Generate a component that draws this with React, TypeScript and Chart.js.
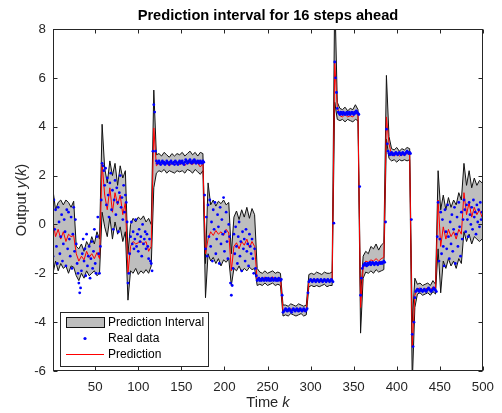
import { useEffect, useRef } from "react";
import { Chart, registerables } from "chart.js";

Chart.register(...registerables);

// Interval and prediction are stored every third step of the run, starting at k = 1;
// the measured output is stored at every step.
const FIRST_SAMPLE = 1;
const SAMPLE_STEP = 3;
const REAL_STEP = 1;

// Upper bound of the 16-step-ahead prediction interval
const UPPER = [
  1.4, 0.6, 0.9, 1.0, 0.8, 1.0, 0.9, 0.7, 0.95,
  -0.9, -1.0, -0.8, -1.1, -0.7, -0.9, -0.5, -0.8, -0.3, -0.6,
  4.1, 2.3, 1.7, 2.6, 2.0, 2.5, 1.6, 2.4, 1.9, 2.2,
  -1.2, 0.0, 0.25, 0.1, 0.3, 0.2, 0.35, 0.1, 0.25, 0.0,
  5.5, 2.85, 2.9, 2.8, 2.95, 2.85, 2.75, 2.9, 2.8, 2.9,
  2.85, 2.95, 2.8, 2.9, 3.0, 2.85, 2.95, 2.8, 2.95, 2.9,
  -1.6, 1.7, 0.8, 1.0, 0.75, 0.95, 0.85, 1.0, 0.8, 0.9,
  -1.2, 0.3, 0.55, 0.2, 0.6, 0.3, 0.7, 0.25, 0.65, 0.4,
  -1.8, -1.95, -2.0, -1.9, -2.0, -1.95, -1.9, -2.0, -1.95, -2.0,
  -3.3, -3.3, -3.35, -3.25, -3.3, -3.35, -3.25, -3.3, -3.35, -3.3,
  -2.05, -2.0, -2.05, -1.95, -2.0, -2.05, -1.95, -2.0, -2.0, -1.95,
  9.5, 5.0, 4.75, 4.7, 4.8, 4.65, 4.75, 4.7, 4.9, 4.7,
  -3.0, -1.3, -1.1, -1.2, -0.9, -1.0, -0.8, -1.05, -0.85, -0.75,
  6.1, 3.6, 3.1, 3.05, 3.15, 3.0, 3.1, 3.05, 3.15, 3.1,
  -4.0, -2.2, -2.45, -2.4, -2.5, -2.45, -2.4, -2.5, -2.3, -2.45,
  2.2, 0.6, 1.2, 0.6, 1.1, 0.7, 1.0, 0.8, 1.3, 1.0,
  2.5, 1.6, 2.2, 1.5, 1.9, 1.6, 1.8, 1.7,
];

// Lower bound of the interval
const LOWER = [
  -2.0, -1.5, -1.9, -1.6, -1.8, -1.7, -2.0, -1.7, -1.75,
  -2.1, -2.3, -2.0, -2.2, -1.9, -2.1, -2.0, -1.9, -2.1, -2.0,
  0.5, -0.1, -0.5, 0.3, -0.6, 0.1, -0.4, -0.1, -0.7, -0.3,
  -3.1, -1.9, -2.0, -1.8, -2.05, -1.9, -2.0, -1.85, -2.0, -1.7,
  1.5, 2.1, 2.2, 2.15, 2.25, 2.1, 2.2, 2.15, 2.1, 2.2,
  2.15, 2.2, 2.1, 2.25, 2.2, 2.1, 2.25, 2.15, 2.05, 2.2,
  -3.0, -1.2, -1.5, -1.35, -1.6, -1.4, -1.7, -1.45, -1.55, -1.4,
  -2.5, -1.8, -1.9, -1.7, -1.95, -1.8, -1.9, -1.75, -1.85, -1.8,
  -2.5, -2.45, -2.5, -2.4, -2.5, -2.45, -2.4, -2.5, -2.45, -2.5,
  -3.75, -3.7, -3.75, -3.65, -3.7, -3.75, -3.7, -3.65, -3.75, -3.7,
  -2.55, -2.5, -2.55, -2.5, -2.55, -2.5, -2.45, -2.55, -2.5, -2.5,
  5.0, 4.3, 4.25, 4.3, 4.2, 4.3, 4.25, 4.2, 4.3, 4.25,
  -4.45, -2.2, -1.95, -2.0, -1.9, -2.0, -1.85, -1.95, -1.9, -1.85,
  3.5, 2.7, 2.6, 2.65, 2.55, 2.65, 2.6, 2.65, 2.6, 2.65,
  -6.5, -3.4, -2.85, -2.8, -2.9, -2.85, -2.8, -2.9, -2.75, -2.85,
  -1.0, -2.8, -1.5, -1.8, -1.4, -1.7, -1.5, -1.8, -1.4, -1.6,
  -0.3, -0.7, -0.4, -0.8, -0.5, -0.6, -0.7, -0.6,
];

// Model prediction
const PREDICTION = [
  0.1, -0.5, -0.2, -0.6, -0.3, -0.7, -0.4, -0.5, -0.45,
  -1.2, -1.5, -1.3, -1.45, -1.1, -1.35, -1.2, -1.4, -1.15, -1.4,
  2.5, 1.2, 0.6, 1.5, 0.5, 1.3, 0.8, 1.2, 0.4, 0.9,
  -2.0, -0.9, -0.7, -0.8, -0.75, -0.7, -0.8, -0.7, -1.1, -0.9,
  3.95, 2.4, 2.5, 2.45, 2.55, 2.5, 2.4, 2.5, 2.45, 2.5,
  2.45, 2.5, 2.4, 2.55, 2.5, 2.45, 2.55, 2.5, 2.35, 2.5,
  -1.2, -0.6, -0.3, -0.45, -0.25, -0.4, -0.3, -0.45, -0.2, -0.35,
  -1.9, -0.9, -0.75, -1.0, -0.7, -0.85, -0.6, -0.95, -0.7, -0.9,
  -2.3, -2.2, -2.25, -2.15, -2.25, -2.2, -2.15, -2.25, -2.2, -2.2,
  -3.55, -3.5, -3.55, -3.45, -3.5, -3.55, -3.45, -3.5, -3.55, -3.5,
  -2.35, -2.25, -2.3, -2.25, -2.3, -2.35, -2.25, -2.3, -2.3, -2.25,
  6.6, 4.8, 4.45, 4.4, 4.5, 4.4, 4.45, 4.4, 4.55, 4.5,
  -3.4, -1.8, -1.5, -1.55, -1.45, -1.5, -1.4, -1.5, -1.4, -1.35,
  4.4, 3.3, 2.85, 2.8, 2.9, 2.8, 2.85, 2.85, 2.9, 2.85,
  -5.0, -2.9, -2.65, -2.6, -2.7, -2.65, -2.6, -2.7, -2.55, -2.65,
  1.0, -0.9, -0.1, -0.6, -0.2, -0.5, -0.3, -0.6, -0.2, -0.4,
  1.3, 0.4, 0.9, 0.3, 0.7, 0.4, 0.6, 0.3,
];

// Measured output, k = 1 ... 500
const REAL = [
  // k 1-27
  -1.3, 1.0, -0.2, 0.6, -0.9, -1.6, 0.7, 0.1, -1.2, -0.5, 0.4, -1.5, -0.8, 0.2,
  -0.3, -1.7, 0.6, -1.0, 0.5, -0.6, -1.3, 0.3, -1.8, -0.4, 0.7, -1.1, 0.2,
  // k 28-57
  -0.8, -1.6, -2.0, -2.4, -2.8, -2.6, -1.9, -1.2, -0.6, -1.5, -1.0, -2.1, -0.4, -1.7, -1.3,
  -0.9, -2.2, -1.4, -0.7, -1.8, -1.1, -0.2, -1.6, -2.0, -0.5, 0.3, -1.2, -2.0, -0.9, 1.0,
  // k 58-87
  2.5, 2.4, 2.2, 1.6, 2.3, 0.8, 1.9, 1.2, 0.3, 1.7, 2.1, 0.6, 1.4, -0.2, 1.0,
  1.8, 0.4, 1.5, 0.9, -0.3, 1.3, 2.0, 0.7, 1.1, 0.2, 1.6, 0.5, 1.2, 0.9, 0.1,
  // k 88-117
  -2.4, -2.0, -1.2, -0.5, 0.1, -0.8, -0.3, -1.0, -0.6, 0.2, -0.9, -0.4, -1.1, -0.2, -0.7,
  -0.5, -1.3, 0.0, -0.8, -0.6, -0.3, -1.0, -0.4, -0.9, -1.4, -0.6, -1.5, -1.6, -1.9, 3.0,
  // k 118-147
  4.9, 4.6, 3.0, 2.6, 2.5, 2.55, 2.6, 2.5, 2.45, 2.55, 2.6, 2.5, 2.55, 2.45, 2.5,
  2.6, 2.55, 2.5, 2.45, 2.55, 2.6, 2.5, 2.5, 2.55, 2.45, 2.6, 2.55, 2.5, 2.45, 2.55,
  // k 148-177
  2.6, 2.5, 2.55, 2.6, 2.5, 2.45, 2.55, 2.65, 2.6, 2.5, 2.55, 2.6, 2.65, 2.55, 2.5,
  2.6, 2.55, 2.65, 2.6, 2.5, 2.55, 2.6, 2.55, 2.5, 2.6, 2.55, 2.5, 2.6, 2.55, 1.2,
  // k 178-207
  -1.0, 0.3, -1.3, 0.8, -0.5, 1.0, -0.9, 0.1, -1.5, 0.6, -0.2, 0.9, -1.2, -0.6, 0.4,
  -0.1, -1.6, 0.7, -0.8, 0.2, -0.4, 1.1, -1.1, -0.3, 0.5, -0.7, -1.4, 0.0, -0.5, -2.4,
  // k 208-237
  -2.9, -2.5, -1.8, -0.4, -1.2, -0.1, -0.9, -1.6, -0.5, 0.1, -1.3, -0.7, -1.9, -0.3, -1.0,
  -0.6, -1.5, -0.2, -1.1, -0.8, -1.7, -0.4, -0.9, -1.2, -0.6, -1.4, -2.0, -1.0, -1.8, -2.1,
  // k 238-267
  -2.3, -2.25, -2.2, -2.3, -2.25, -2.3, -2.2, -2.25, -2.3, -2.25, -2.2, -2.3, -2.25, -2.2, -2.3,
  -2.25, -2.3, -2.2, -2.25, -2.3, -2.25, -2.2, -2.3, -2.25, -2.3, -2.2, -2.25, -2.3, -2.25, -2.9,
  // k 268-297
  -3.6, -3.55, -3.5, -3.45, -3.5, -3.55, -3.5, -3.45, -3.5, -3.55, -3.6, -3.5, -3.45, -3.5, -3.55,
  -3.5, -3.45, -3.5, -3.55, -3.5, -3.45, -3.5, -3.55, -3.5, -3.45, -3.5, -3.55, -3.5, -3.45, -2.8,
  // k 298-327
  -2.35, -2.3, -2.25, -2.3, -2.35, -2.3, -2.25, -2.3, -2.35, -2.3, -2.25, -2.3, -2.35, -2.3, -2.25,
  -2.3, -2.35, -2.3, -2.25, -2.3, -2.35, -2.3, -2.25, -2.3, -2.35, -2.3, -2.25, -2.3, -2.35, 0.05,
  // k 328-357
  6.65, 6.0, 5.4, 4.75, 4.6, 4.55, 4.5, 4.6, 4.55, 4.5, 4.6, 4.55, 4.5, 4.55, 4.6,
  4.5, 4.55, 4.6, 4.5, 4.55, 4.6, 4.55, 4.5, 4.6, 4.55, 4.65, 4.6, 4.55, 4.5, 1.55,
  // k 358-387
  -2.9, -2.2, -1.8, -1.7, -1.65, -1.6, -1.65, -1.7, -1.6, -1.65, -1.6, -1.55, -1.65, -1.6, -1.55,
  -1.6, -1.65, -1.6, -1.55, -1.6, -1.65, -1.6, -1.55, -1.6, -1.55, -1.6, -1.55, -1.5, -1.55, 0.1,
  // k 388-417
  3.9, 3.3, 3.0, 2.9, 2.85, 2.9, 2.95, 2.85, 2.9, 2.85, 2.9, 2.95, 2.9, 2.85, 2.9,
  2.95, 2.9, 2.85, 2.9, 2.95, 2.9, 2.85, 2.9, 2.95, 3.0, 2.95, 2.9, 2.95, 2.9, 0.2,
  // k 418-447
  -4.5, -5.0, -4.0, -3.0, -2.75, -2.7, -2.65, -2.7, -2.75, -2.7, -2.65, -2.7, -2.75, -2.7, -2.65,
  -2.7, -2.75, -2.7, -2.65, -2.6, -2.65, -2.7, -2.75, -2.7, -2.65, -2.6, -2.65, -2.7, -2.75, -0.5,
  // k 448-477
  0.9, -1.5, -0.6, 0.5, -1.2, 0.2, -0.9, -1.7, 0.6, -0.3, -1.0, 0.8, -0.5, -1.4, 0.1,
  -0.8, 0.4, -1.1, -0.2, 0.7, -1.6, -0.4, 0.3, -0.9, 0.9, -0.1, -1.3, 0.5, -0.6, 0.2,
  // k 478-500
  1.0, 0.6, -0.3, 0.8, 0.2, -0.5, 0.9, 0.4, 0.0, 0.7, -0.2, 1.0, 0.3, 0.5, -0.4,
  0.8, 0.1, 0.6, -0.1, 0.9, 0.2, 0.5, 0.3,
];

const X_TICKS = [50, 100, 150, 200, 250, 300, 350, 400, 450, 500];
const Y_TICKS = [-6, -4, -2, 0, 2, 4, 6, 8];
const X_RANGE = [1, 500];
const Y_RANGE = [-6, 8];

const TITLE = "Prediction interval for 16 steps ahead";
const LEGEND_LABELS = ["Prediction Interval", "Real data", "Prediction"];

const FONT = "'Liberation Sans', Arial, Helvetica, sans-serif";
const AXIS_COLOR = "#262626";
const BAND_FILL = "rgb(190,190,190)";
const EDGE = "#111111";
const BLUE = "#0000ff";
const RED = "#ff0000";

const series = (ys: number[], step: number) =>
  ys.map((y, i) => ({ x: FIRST_SAMPLE + i * step, y }));

// Box, inward ticks, mixed-style axis labels (italic symbols) and the legend
const framePlugin = {
  id: "frame",
  afterDatasetsDraw(chart: any) {
    const { ctx, chartArea: a, scales } = chart;
    const L = Math.round(a.left) + 0.5;
    const R = Math.round(a.right) - 0.5;
    const T = Math.round(a.top) + 0.5;
    const B = Math.round(a.bottom) - 0.5;
    const tick = 4;
    ctx.save();
    ctx.strokeStyle = AXIS_COLOR;
    ctx.lineWidth = 1;
    ctx.beginPath();
    for (const v of X_TICKS) {
      const x = Math.round(scales.x.getPixelForValue(v)) + 0.5;
      ctx.moveTo(x, B);
      ctx.lineTo(x, B - tick);
      ctx.moveTo(x, T);
      ctx.lineTo(x, T + tick);
    }
    for (const v of Y_TICKS) {
      const y = Math.round(scales.y.getPixelForValue(v)) + 0.5;
      ctx.moveTo(L, y);
      ctx.lineTo(L + tick, y);
      ctx.moveTo(R, y);
      ctx.lineTo(R - tick, y);
    }
    ctx.stroke();
    ctx.strokeRect(L, T, R - L, B - T);
    ctx.restore();
  },
  afterDraw(chart: any) {
    const { ctx, chartArea: a } = chart;
    const drawRuns = (runs: [string, boolean][], cx: number, cy: number, rot: number) => {
      ctx.save();
      ctx.translate(cx, cy);
      ctx.rotate(rot);
      ctx.fillStyle = AXIS_COLOR;
      ctx.textBaseline = "middle";
      ctx.textAlign = "left";
      const fontFor = (it: boolean) => `${it ? "italic " : ""}14.67px ${FONT}`;
      let total = 0;
      for (const [s, it] of runs) {
        ctx.font = fontFor(it);
        total += ctx.measureText(s).width;
      }
      let x = -total / 2;
      for (const [s, it] of runs) {
        ctx.font = fontFor(it);
        ctx.fillText(s, x, 0);
        x += ctx.measureText(s).width;
      }
      ctx.restore();
    };
    drawRuns([["Time ", false], ["k", true]], (a.left + a.right) / 2, 403, 0);
    drawRuns(
      [["Output ", false], ["y", true], ["(", false], ["k", true], [")", false]],
      22,
      (a.top + a.bottom) / 2,
      -Math.PI / 2
    );

    // Legend in the lower-left corner of the axes
    const lx = Math.round(a.left + 7);
    const ly = Math.round(a.bottom - 59);
    const lw = 148;
    const lh = 54;
    ctx.save();
    ctx.fillStyle = "#ffffff";
    ctx.fillRect(lx, ly, lw, lh);
    ctx.strokeStyle = AXIS_COLOR;
    ctx.lineWidth = 1;
    ctx.strokeRect(lx + 0.5, ly + 0.5, lw, lh);
    const rowY = [ly + 10, ly + 26, ly + 42];
    const sx0 = lx + 6;
    const sx1 = lx + 44;
    // interval patch
    ctx.fillStyle = BAND_FILL;
    ctx.fillRect(sx0, rowY[0] - 5, sx1 - sx0, 10);
    ctx.strokeStyle = EDGE;
    ctx.strokeRect(sx0 + 0.5, rowY[0] - 5 + 0.5, sx1 - sx0, 10);
    // data marker
    ctx.fillStyle = BLUE;
    ctx.beginPath();
    ctx.arc((sx0 + sx1) / 2, rowY[1] + 0.5, 1.6, 0, Math.PI * 2);
    ctx.fill();
    // prediction line
    ctx.strokeStyle = RED;
    ctx.lineWidth = 1;
    ctx.beginPath();
    ctx.moveTo(sx0, rowY[2] + 0.5);
    ctx.lineTo(sx1, rowY[2] + 0.5);
    ctx.stroke();
    ctx.fillStyle = "#000000";
    ctx.font = `12px ${FONT}`;
    ctx.textBaseline = "middle";
    ctx.textAlign = "left";
    LEGEND_LABELS.forEach((t, i) => ctx.fillText(t, lx + 48, rowY[i] + 0.5));
    ctx.restore();
  },
};

export default function App() {
  const ref = useRef<HTMLCanvasElement>(null);

  useEffect(() => {
    const canvas = ref.current;
    if (!canvas) return;
    const chart = new Chart(canvas, {
      type: "scatter",
      data: {
        datasets: [
          {
            label: LEGEND_LABELS[0],
            data: series(UPPER, SAMPLE_STEP),
            showLine: true,
            borderColor: EDGE,
            borderWidth: 1,
            backgroundColor: BAND_FILL,
            fill: "+1",
            pointRadius: 0,
            order: 4,
          },
          {
            label: "lower bound",
            data: series(LOWER, SAMPLE_STEP),
            showLine: true,
            borderColor: EDGE,
            borderWidth: 1,
            fill: false,
            pointRadius: 0,
            order: 3,
          },
          {
            label: LEGEND_LABELS[1],
            data: series(REAL, REAL_STEP),
            showLine: false,
            pointRadius: 1.4,
            pointBorderWidth: 0,
            pointBackgroundColor: BLUE,
            backgroundColor: BLUE,
            order: 1,
          },
          {
            label: LEGEND_LABELS[2],
            data: series(PREDICTION, SAMPLE_STEP),
            showLine: true,
            borderColor: RED,
            borderWidth: 1,
            fill: false,
            pointRadius: 0,
            order: 2,
          },
        ] as any,
      },
      options: {
        animation: false,
        responsive: false,
        devicePixelRatio: 1,
        layout: { padding: { left: 0, right: 15, top: 0, bottom: 0 } },
        plugins: {
          legend: { display: false },
          tooltip: { enabled: false },
          title: {
            display: true,
            text: TITLE,
            fullSize: false,
            color: "#000000",
            font: { family: FONT, size: 14.67, weight: "bold" },
            padding: { top: 7, bottom: 4.4 },
          },
        },
        scales: {
          x: {
            type: "linear",
            min: X_RANGE[0],
            max: X_RANGE[1],
            grid: { display: false, drawTicks: false },
            border: { display: false },
            afterBuildTicks: (s: any) => {
              s.ticks = X_TICKS.map((v) => ({ value: v }));
            },
            afterFit: (s: any) => {
              s.height = 42;
            },
            ticks: {
              color: AXIS_COLOR,
              padding: 8,
              maxRotation: 0,
              autoSkip: false,
              font: { family: FONT, size: 13.3 },
            },
          },
          y: {
            type: "linear",
            min: Y_RANGE[0],
            max: Y_RANGE[1],
            grid: { display: false, drawTicks: false },
            border: { display: false },
            afterBuildTicks: (s: any) => {
              s.ticks = Y_TICKS.map((v) => ({ value: v }));
            },
            afterFit: (s: any) => {
              s.width = 53;
            },
            ticks: {
              color: AXIS_COLOR,
              padding: 7,
              autoSkip: false,
              font: { family: FONT, size: 13.3 },
            },
          },
        },
      },
      plugins: [framePlugin],
    });
    return () => chart.destroy();
  }, []);

  return (
    <div style={{ position: "fixed", left: 0, top: 0, width: 502, height: 413, background: "#ffffff" }}>
      <canvas ref={ref} width={502} height={413} />
    </div>
  );
}
